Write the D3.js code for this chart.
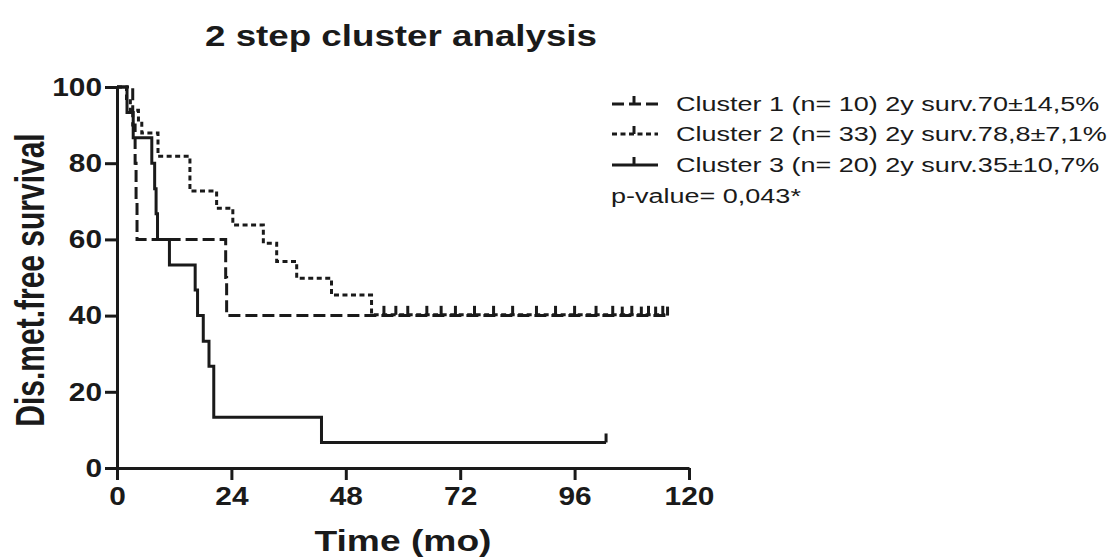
<!DOCTYPE html>
<html>
<head>
<meta charset="utf-8">
<script src="https://cdn.jsdelivr.net/npm/d3@7"></script>
<style>
  html, body { margin: 0; padding: 0; background: #fff; }
  svg { display: block; }
  text { font-family: "Liberation Sans", Arial, sans-serif; fill: #1a1a1a; }
</style>
</head>
<body>
<svg id="chart" width="1117" height="558"></svg>
<script>
// Kaplan–Meier step data: event times (months) and survival (%) after each step
const c1Times = [0, 3.3, 3.8, 4.0, 4.2, 22.8, 23.0];
const c1Surv  = [100, 90, 80, 70, 60, 50, 40];
const c1End = 115.5;
const c1Censor = [106, 110, 113, 115.5];

const c2Times = [0, 2.0, 2.8, 4.5, 5.2, 8.6, 15.3, 20.9, 24.3, 30.7, 33.5, 37.7, 45.0, 53.4];
const c2Surv  = [100, 97.0, 93.9, 90.9, 87.9, 81.8, 72.7, 68.2, 63.8, 59.0, 54.2, 49.8, 45.4, 40.2];
const c2End = 115;
const c2Censor = [56, 58.5, 61, 65, 68, 71, 75, 79, 83, 88, 92, 96, 100.5, 104, 108, 111.5, 114.5];

const c3Times = [0, 2.1, 3.4, 7.3, 7.9, 8.2, 8.5, 11.0, 16.4, 16.9, 18.1, 19.3, 20.3, 42.9];
const c3Surv  = [100, 93.3, 86.7, 80, 73.3, 66.7, 60, 53.3, 46.7, 40, 33.3, 26.7, 13.3, 6.7];
const c3End = 102.6;
const c3Censor = [102.6];

const xTicks = [0, 24, 48, 72, 96, 120];
const yTicks = [0, 20, 40, 60, 80, 100];

const legendLabels = [
  "Cluster 1 (n= 10) 2y surv.70\u00b114,5%",
  "Cluster 2 (n= 33) 2y surv.78,8\u00b17,1%",
  "Cluster 3 (n= 20) 2y surv.35\u00b110,7%"
];
const pValueLabel = "p-value= 0,043*";
const titleText = "2 step cluster analysis";
const xTitle = "Time (mo)";
const yTitle = "Dis.met.free survival";

const dashes = ["12,5", "5,3.5", null];
const STRETCH = 1.35; // horizontal text widening

const svg = d3.select("#chart");
const x = d3.scaleLinear().domain([0, 120]).range([117, 689]);
const y = d3.scaleLinear().domain([0, 100]).range([468, 87]);

function widen(sel, factor = STRETCH) {
  sel.each(function () {
    const w = this.getComputedTextLength();
    d3.select(this).attr("textLength", w * factor).attr("lengthAdjust", "spacingAndGlyphs");
  });
}
function fixWidth(sel, perChar) {
  sel.each(function () {
    const n = this.textContent.length;
    d3.select(this).attr("textLength", n * perChar).attr("lengthAdjust", "spacingAndGlyphs");
  });
}

// Axes
const gx = svg.append("g").attr("transform", `translate(0,${y(0)})`)
  .call(d3.axisBottom(x).tickValues(xTicks).tickSize(12).tickSizeOuter(0).tickPadding(7).tickFormat(d3.format("d")));
const gy = svg.append("g").attr("transform", `translate(${x(0)},0)`)
  .call(d3.axisLeft(y).tickValues(yTicks).tickSize(12).tickSizeOuter(0).tickPadding(3).tickFormat(d3.format("d")));

[gx, gy].forEach(g => {
  g.select(".domain").attr("stroke", "#1a1a1a").attr("stroke-width", 3);
  g.selectAll(".tick line").attr("stroke", "#1a1a1a").attr("stroke-width", 3);
  g.selectAll(".tick text")
    .attr("font-size", 26).attr("font-weight", "bold")
    .attr("font-family", "Liberation Sans, Arial, sans-serif").attr("fill", "#1a1a1a")
    .call(fixWidth, 16.6);
});

// Survival curves
const series = [
  { t: c1Times, s: c1Surv, end: c1End, cens: c1Censor },
  { t: c2Times, s: c2Surv, end: c2End, cens: c2Censor },
  { t: c3Times, s: c3Surv, end: c3End, cens: c3Censor }
];
const stepLine = d3.line().x(d => x(d[0])).y(d => y(d[1])).curve(d3.curveStepAfter);

series.forEach((sr, i) => {
  const pts = sr.t.map((t, k) => [t, sr.s[k]]);
  pts.push([sr.end, sr.s[sr.s.length - 1]]);
  svg.append("path")
    .attr("d", stepLine(pts))
    .attr("fill", "none").attr("stroke", "#1a1a1a").attr("stroke-width", 3)
    .attr("stroke-dasharray", dashes[i]);
  // censor marks
  const last = sr.s[sr.s.length - 1];
  svg.append("g").selectAll("line").data(sr.cens).join("line")
    .attr("x1", d => x(d)).attr("x2", d => x(d))
    .attr("y1", y(last)).attr("y2", y(last) - 9)
    .attr("stroke", "#1a1a1a").attr("stroke-width", 3);
});

// Title and axis titles
svg.append("text").attr("x", 205).attr("y", 46)
  .attr("font-size", 29).attr("font-weight", "bold").text(titleText)
  .attr("textLength", 392).attr("lengthAdjust", "spacingAndGlyphs");
svg.append("text").attr("x", x(60)).attr("y", 551).attr("text-anchor", "middle")
  .attr("font-size", 29).attr("font-weight", "bold").text(xTitle)
  .attr("textLength", 177).attr("lengthAdjust", "spacingAndGlyphs");
svg.append("text")
  .attr("transform", `translate(44,280) scale(${STRETCH},1) rotate(-90)`)
  .attr("text-anchor", "middle")
  .attr("font-size", 30).attr("font-weight", "bold").text(yTitle);

// Legend
const legY = [104, 134, 165];
legendLabels.forEach((lab, i) => {
  const g = svg.append("g");
  g.append("line").attr("x1", 612).attr("x2", 658).attr("y1", legY[i]).attr("y2", legY[i])
    .attr("stroke", "#1a1a1a").attr("stroke-width", 3).attr("stroke-dasharray", dashes[i]);
  g.append("line").attr("x1", 634).attr("x2", 634).attr("y1", legY[i]).attr("y2", legY[i] - 8)
    .attr("stroke", "#1a1a1a").attr("stroke-width", 3);
  g.append("text").attr("x", 676).attr("y", legY[i] + 7)
    .attr("font-size", 20).text(lab).call(widen);
});
svg.append("text").attr("x", 611).attr("y", 203)
  .attr("font-size", 20).text(pValueLabel).call(widen);
</script>
</body>
</html>
